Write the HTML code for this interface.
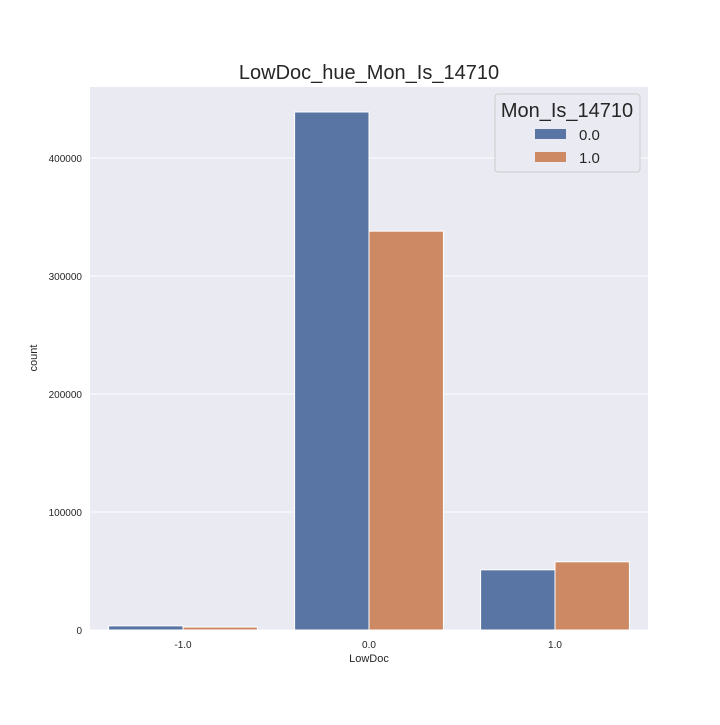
<!DOCTYPE html>
<html><head><meta charset="utf-8"><style>
body{margin:0;background:#fff;font-family:"Liberation Sans",sans-serif}
</style></head><body>
<svg width="720" height="720" xmlns="http://www.w3.org/2000/svg" font-family="Liberation Sans, sans-serif">
<rect x="90" y="87" width="558" height="543" fill="#eaeaf2"/>
<g id="grid"></g>
<g id="bars"></g>
<g id="ticks"></g>
<text x="369" y="79" font-size="20" text-anchor="middle" fill="#262626">LowDoc_hue_Mon_Is_14710</text>
<text x="369" y="662" font-size="11" text-anchor="middle" fill="#262626">LowDoc</text>
<text x="37" y="358" font-size="11" text-anchor="middle" fill="#262626" transform="rotate(-90 37 358)">count</text>
<g>
<rect x="495" y="94" width="145" height="78" rx="3" fill="#eaeaf2" stroke="#cccccc" stroke-width="1"/>
<text x="567" y="117" font-size="20" text-anchor="middle" fill="#262626">Mon_Is_14710</text>
<rect x="535" y="129" width="31" height="10" fill="#5875a4"/>
<text x="579" y="140" font-size="15" fill="#262626">0.0</text>
<rect x="535" y="152" width="31" height="10" fill="#cc8963"/>
<text x="579" y="163" font-size="15" fill="#262626">1.0</text>
</g>
</svg>
<script>
const categories=["-1.0","0.0","1.0"];
const series0=[3500,439000,51000];
const series1=[2500,338000,57800];
const yTicks=[0,100000,200000,300000,400000];
const NS="http://www.w3.org/2000/svg";
const x0=90,x1=648,yb=630,pxPer=118/100000;
const y=v=>yb-v*pxPer;
const step=(x1-x0)/categories.length;
const xc=i=>x0+step*(i+0.5);
const bw=step*0.8/2;
function mk(tag,attrs,parent){const e=document.createElementNS(NS,tag);for(const k in attrs)e.setAttribute(k,attrs[k]);parent.appendChild(e);return e;}
const grid=document.getElementById('grid'),bars=document.getElementById('bars'),ticks=document.getElementById('ticks');
yTicks.forEach(t=>{
 const l=mk('line',{x1:x0,x2:x1,y1:y(t),y2:y(t),stroke:'#fff','stroke-width':1},grid);
 
 
 const tx=mk('text',{x:x0-8,y:y(t)+4,'font-size':10,'text-anchor':'end',fill:'#262626'},ticks);
 tx.textContent=String(t);
 
 
});
categories.forEach((c,i)=>{
 [[series0,'#5875a4',-1],[series1,'#cc8963',0]].forEach(([s,col,off],k)=>{
  const v=s[i];
  const r=mk('rect',{x:xc(i)+off*bw,y:y(v),width:bw,height:yb-y(v),fill:col,stroke:'#fff','stroke-width':1},bars);
  
  
 });
 const tx=mk('text',{x:xc(i),y:648,'font-size':10,'text-anchor':'middle',fill:'#262626'},ticks);
 tx.textContent=c;
 
 
});
</script>
</body></html>
